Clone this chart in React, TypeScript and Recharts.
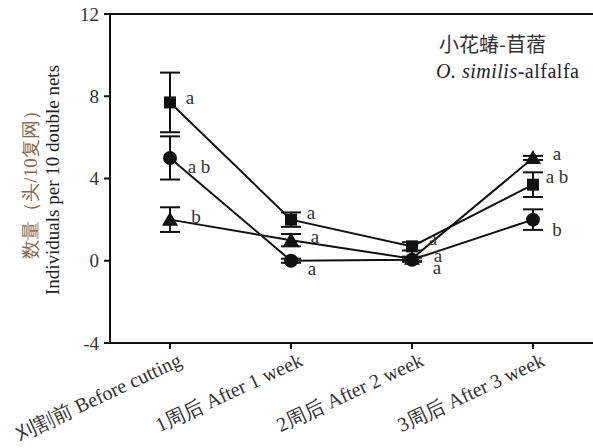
import React from 'react';
import { ComposedChart, Line, XAxis, YAxis, ErrorBar, LabelList, ReferenceLine } from 'recharts';

const categories = ['刈割前 Before cutting', '1周后 After 1 week', '2周后 After 2 week', '3周后 After 3 week'];
const squareVals = [7.7, 2.0, 0.7, 3.7];
const squareErr = [1.45, 0.35, 0.2, 0.6];
const circleVals = [5.0, 0.0, 0.05, 2.0];
const circleErr = [1.05, 0.1, 0.1, 0.5];
const triangleVals = [2.0, 1.0, 0.1, 5.0];
const triangleErr = [0.6, 0.3, 0.1, 0.1];
const squareLetters = ['a', 'a', 'a', 'a b'];
const circleLetters = ['a b', 'a', 'a', 'b'];
const triangleLetters = ['b', 'a', 'a', 'a'];
const yTicks = [-4, 0, 4, 8, 12];

const data = categories.map((c, i) => ({
  cat: c,
  sq: squareVals[i], sqErr: squareErr[i],
  ci: circleVals[i], ciErr: circleErr[i],
  tr: triangleVals[i], trErr: triangleErr[i],
}));

// letter offsets from the marker, per point
const sqOff = [[20, -5], [20, -7], [21, -8], [24, -8]];
const ciOff = [[29, 9], [21, 8], [25, 8], [24, 10]];
const trOff = [[26, -3], [24, -4], [26, -3], [24, -4]];

const INK = '#111';
const FONT = 'Liberation Serif, serif';

const letterContent = (letters: string[], off: number[][]) => (p: any) => {
  const i = p.index;
  if (p.x == null || p.y == null) return null;
  return (
    <text x={p.x + off[i][0]} y={p.y + off[i][1]} textAnchor="middle" dominantBaseline="central"
      style={{ fontFamily: FONT }} fontSize={19} fill="#333">{letters[i]}</text>
  );
};

const squareDot = (p: any) => (
  <rect key={`s${p.index}`} x={p.cx - 6} y={p.cy - 6} width={12} height={12} fill={INK} />
);
const circleDot = (p: any) => (
  <circle key={`c${p.index}`} cx={p.cx} cy={p.cy} r={7} fill={INK} />
);
const triangleDot = (p: any) => (
  <path key={`t${p.index}`} d={`M${p.cx},${p.cy - 8} L${p.cx + 8},${p.cy + 6} L${p.cx - 8},${p.cy + 6} Z`} fill={INK} />
);

const XTick = ({ x, y, payload }: any) => (
  <text x={x + 13} y={y + 14} transform={`rotate(-25, ${x + 13}, ${y + 14})`} textAnchor="end"
    style={{ fontFamily: FONT }} fontSize={20} fill="#333">{payload.value}</text>
);

const YTick = ({ x, y, payload }: any) => (
  <text x={x - 3} y={y} textAnchor="end" dominantBaseline="central"
    style={{ fontFamily: FONT }} fontSize={19} fill="#333">{payload.value}</text>
);

const YLabel = () => (
  <g>
    <text x={30} y={180} transform="rotate(-90, 30, 180)" textAnchor="middle" dominantBaseline="central"
      style={{ fontFamily: FONT }} fontSize={19} fill="#8a6a4a">数量（头/10复网）</text>
    <text x={52} y={180} transform="rotate(-90, 52, 180)" textAnchor="middle" dominantBaseline="central"
      style={{ fontFamily: FONT }} fontSize={19} fill="#222">Individuals per 10 double nets</text>
  </g>
);

export default function App() {
  return (
    <div style={{ position: 'absolute', left: 0, top: 0, width: 593, height: 448, background: '#fff' }}>
      <ComposedChart width={593} height={448} data={data} margin={{ top: 14, right: 0, bottom: 0, left: 0 }}>
        <XAxis dataKey="cat" height={105} tick={<XTick />} tickSize={6} interval={0} padding={{ left: 60, right: 60 }}
          axisLine={{ stroke: INK, strokeWidth: 2 }} tickLine={{ stroke: INK, strokeWidth: 2 }} />
        <YAxis width={110} domain={[-4, 12]} ticks={yTicks} tickSize={6}
          axisLine={{ stroke: INK, strokeWidth: 2 }} tickLine={{ stroke: INK, strokeWidth: 2 }}
          tick={<YTick />} label={<YLabel />} />
        <ReferenceLine y={12} stroke={INK} strokeWidth={2} />
        <Line dataKey="sq" stroke={INK} strokeWidth={2} dot={squareDot} isAnimationActive={false}>
          <ErrorBar dataKey="sqErr" width={10} stroke={INK} strokeWidth={2} direction="y" />
          <LabelList dataKey="sq" content={letterContent(squareLetters, sqOff)} />
        </Line>
        <Line dataKey="ci" stroke={INK} strokeWidth={2} dot={circleDot} isAnimationActive={false}>
          <ErrorBar dataKey="ciErr" width={10} stroke={INK} strokeWidth={2} direction="y" />
          <LabelList dataKey="ci" content={letterContent(circleLetters, ciOff)} />
        </Line>
        <Line dataKey="tr" stroke={INK} strokeWidth={2} dot={triangleDot} isAnimationActive={false}>
          <ErrorBar dataKey="trErr" width={10} stroke={INK} strokeWidth={2} direction="y" />
          <LabelList dataKey="tr" content={letterContent(triangleLetters, trOff)} />
        </Line>
      </ComposedChart>
      <div style={{ position: 'absolute', left: 439, top: 29, fontFamily: '"Noto Sans CJK SC", serif', fontSize: 20, color: '#333', whiteSpace: 'nowrap' }}>
        小花蝽-苜蓿
      </div>
      <div style={{ position: 'absolute', left: 436, top: 60, fontFamily: FONT, fontSize: 20, letterSpacing: 0.5, color: '#222', whiteSpace: 'nowrap' }}>
        <i>O. similis</i>-alfalfa
      </div>
    </div>
  );
}
